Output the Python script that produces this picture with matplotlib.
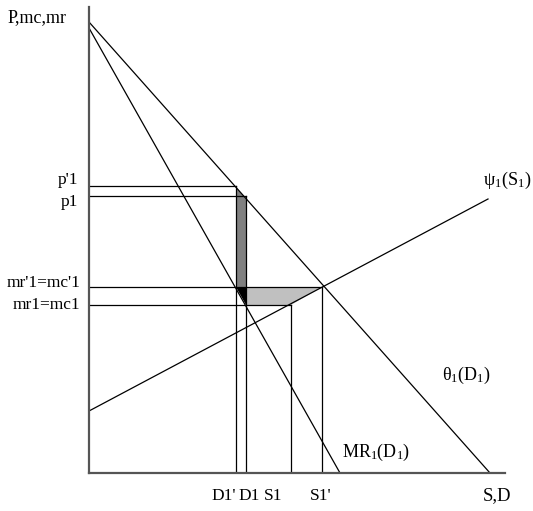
import matplotlib
matplotlib.use("Agg")
import matplotlib.pyplot as plt
from matplotlib.patches import Polygon

plt.rcParams['font.family'] = ['Liberation Serif', 'DejaVu Serif']
plt.rcParams['mathtext.fontset'] = 'custom'
plt.rcParams['mathtext.rm'] = 'Liberation Serif'
plt.rcParams['mathtext.it'] = 'Liberation Serif'

# ---- data (arbitrary units, origin at axes corner) ----
demand_line = [(0, 451), (401, 0)]      # theta_1(D_1)
mr_line = [(0, 445), (251, 0)]          # MR_1(D_1)
supply_line = [(0, 62), (399, 274)]     # psi_1(S_1)

price_levels = {"p'1": 287, "p1": 277, "mr'1=mc'1": 186, "mr1=mc1": 168}
quantities = {"D1'": 147, "D1": 157, "S1": 202, "S1'": 233}

x_max, y_max = 416, 466


def line_y(line, x):
    (x0, y0), (x1, y1) = line
    return y0 + (y1 - y0) * (x - x0) / (x1 - x0)


fig = plt.figure(figsize=(5.33, 5.11), dpi=100)
ax = fig.add_axes([89 / 533, 38 / 511, 416 / 533, 466 / 511])
ax.set_xlim(0, x_max)
ax.set_ylim(0, y_max)
for s in ['top', 'right']:
    ax.spines[s].set_visible(False)
for s in ['left', 'bottom']:
    ax.spines[s].set_color('#555555')
    ax.spines[s].set_linewidth(1.6)
ax.set_xticks([])
ax.set_yticks([])

lw = 0.9
# curves
for line in (demand_line, mr_line, supply_line):
    ax.plot([line[0][0], line[1][0]], [line[0][1], line[1][1]], color='black', lw=lw)

pp = price_levels["p'1"]
p = price_levels["p1"]
mrp = price_levels["mr'1=mc'1"]
mr = price_levels["mr1=mc1"]
d1p = quantities["D1'"]
d1 = quantities["D1"]
s1 = quantities["S1"]
s1p = quantities["S1'"]

# shaded regions
ax.add_patch(Polygon([(d1p, line_y(demand_line, d1p)), (d1, line_y(demand_line, d1)),
                      (d1, mrp), (d1p, mrp)], closed=True, facecolor='#808080', edgecolor='none'))
ax.add_patch(Polygon([(d1p, mrp), (d1, mrp), (d1, mr)], closed=True,
                     facecolor='black', edgecolor='none'))
ax.add_patch(Polygon([(d1, mrp), (s1p, mrp), (s1, mr), (d1, mr)], closed=True,
                     facecolor='#c0c0c0', edgecolor='none'))

# guide lines
pairs = [(pp, d1p), (p, d1), (mrp, s1p), (mr, s1)]
for yv, xv in pairs:
    ax.plot([0, xv], [yv, yv], color='black', lw=lw)
    ax.plot([xv, xv], [0, yv], color='black', lw=lw)

# labels
ax.text(-52, 455, "P,mc,mr", ha='center', va='center', fontsize=13, clip_on=False)
left_label_y = {"p'1": 293, "p1": 271, "mr'1=mc'1": 190, "mr1=mc1": 168}
left_label_x = {"p'1": -11, "p1": -11, "mr'1=mc'1": -8, "mr1=mc1": -9}
for k in price_levels:
    ax.text(left_label_x[k], left_label_y[k], k, ha='right', va='center',
            fontsize=12.5, clip_on=False)

bottom_label_x = {"D1'": 135, "D1": 160, "S1": 184, "S1'": 232}
for k in quantities:
    ax.text(bottom_label_x[k], -23, k, ha='center', va='center', fontsize=12.5, clip_on=False)
ax.text(408, -23, "S,D", ha='center', va='center', fontsize=13.5, clip_on=False)

ax.text(394, 293, r'ψ$_1$(S$_1$)', ha='left', va='center', fontsize=13, clip_on=False)
ax.text(353, 98, r'θ$_1$(D$_1$)', ha='left', va='center', fontsize=13, clip_on=False)
ax.text(253, 21, r'MR$_1$(D$_1$)', ha='left', va='center', fontsize=13, clip_on=False)

fig.savefig("out.png", dpi=100)
